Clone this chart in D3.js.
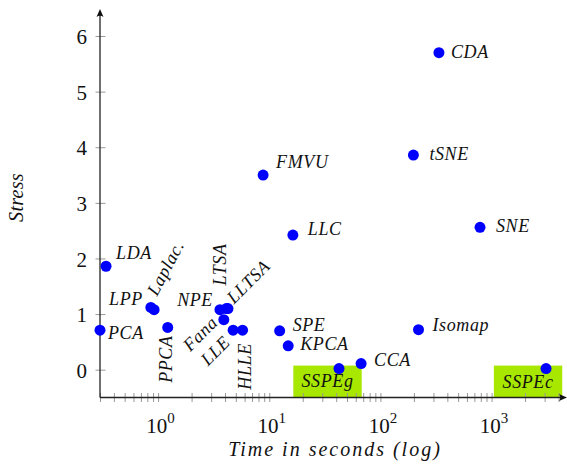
<!DOCTYPE html>
<html>
<head>
<meta charset="utf-8">
<script src="https://cdn.jsdelivr.net/npm/d3@7"></script>
</head>
<body style="margin:0;background:#fff">
<div id="chart"></div>
<script>
// data
var methods = ["PCA","LDA","LPP","Laplac.","PPCA","NPE","LTSA","LLTSA","Fana","LLE","HLLE",
               "SPE","KPCA","FMVU","LLC","CDA","tSNE","SNE","Isomap","CCA","SSPEg","SSPEc"];
var timeSec = [0.3, 0.34, 0.86, 0.92, 1.22, 3.6, 4.1, 4.25, 3.9, 4.73, 5.75,
               12.4, 14.8, 8.8, 16.3, 336, 198, 787, 220, 67, 42.4, 3090];
var stress  = [0.71, 1.86, 1.12, 1.08, 0.76, 1.08, 1.1, 1.1, 0.9, 0.71, 0.71,
               0.70, 0.43, 3.50, 2.42, 5.70, 3.86, 2.56, 0.72, 0.11, 0.02, 0.02];
var yTicks = [0, 1, 2, 3, 4, 5, 6];
var xMajor = [1, 10, 100, 1000];
var highlighted = ["SSPEg", "SSPEc"];

// label placement: dx, dy, rotation, anchor
var labelPos = {
  "PCA": [8, 9, 0, "start"],
  "LDA": [10, -7, 0, "start"],
  "LPP": [-8, -2, 0, "end"],
  "Laplac.": [3, -13, -62, "start"],
  "PPCA": [4, 8, -90, "end"],
  "NPE": [-7, -4, 0, "end"],
  "LTSA": [0, -23, -90, "start"],
  "LLTSA": [6, -4, -45, "start"],
  "Fana": [-5, 4, -45, "end"],
  "LLE": [-2, 13, -45, "end"],
  "HLLE": [8, 13, -90, "end"],
  "SPE": [13, 0, 0, "start"],
  "KPCA": [12, 4, 0, "start"],
  "FMVU": [13, -7, 0, "start"],
  "LLC": [15, 0, 0, "start"],
  "CDA": [12, 5, 0, "start"],
  "tSNE": [16, 5, 0, "start"],
  "SNE": [16, 5, 0, "start"],
  "Isomap": [14, 1, 0, "start"],
  "CCA": [13, 2, 0, "start"],
  "SSPEg": [-11.5, 18, 0, "middle"],
  "SSPEc": [-18, 19, 0, "middle"]
};

var serif = "'Liberation Serif', 'Times New Roman', serif";
var W = 567, H = 468;
var svg = d3.select("#chart").append("svg").attr("width", W).attr("height", H);

var x = d3.scaleLog().domain([0.3, 4300]).range([100, 562]);
var y = d3.scaleLinear().domain([-0.5, 6.45]).range([397.5, 11]);

var pts = methods.map(function(m, i) { return {name: m, t: timeSec[i], s: stress[i]}; });

// green boxes behind
svg.selectAll("rect.hl")
  .data(pts.filter(function(d) { return highlighted.indexOf(d.name) >= 0; }))
  .enter().append("rect")
  .attr("class", "hl")
  .attr("x", function(d) { return x(d.t) + labelPos[d.name][0] - 34.2; })
  .attr("y", function(d) { return y(d.s) - 3; })
  .attr("width", 68.4)
  .attr("height", function(d) { return y(-0.5) - y(d.s) + 3; })
  .attr("fill", "#a8e800");

// x axis
var minor = [];
[0.1, 1, 10, 100, 1000].forEach(function(p) {
  for (var k = 1; k < 10; k++) { var v = p * k; if (v >= 0.3 && v <= 4300) minor.push(v); }
});
var gx = svg.append("g").attr("transform", "translate(0," + y(-0.5) + ")")
  .call(d3.axisBottom(x).tickValues(minor).tickSize(0).tickFormat(""));
gx.select(".domain").remove();
gx.selectAll(".tick line").attr("y1", -4.5).attr("y2", 4.5).attr("stroke", "#999").attr("stroke-width", 1);
gx.selectAll(".tick text").remove();
gx.selectAll(".tick").filter(function(d) { return xMajor.indexOf(d) >= 0; })
  .append("text")
  .attr("y", 35.5).attr("x", 2).attr("text-anchor", "middle")
  .style("font-family", serif).style("font-size", "21px").attr("fill", "#111")
  .each(function(d) {
    var t = d3.select(this);
    t.append("tspan").text("10");
    t.append("tspan").attr("dy", -10).style("font-size", "15px").text(Math.round(Math.log10(d)));
  });

// y axis
var gy = svg.append("g").attr("transform", "translate(" + x(0.3) + ",0)")
  .call(d3.axisLeft(y).tickValues(yTicks).tickSize(0).tickFormat(d3.format("d")));
gy.select(".domain").remove();
gy.selectAll(".tick line").attr("x1", -4.5).attr("x2", 5.5).attr("stroke", "#999").attr("stroke-width", 1);
gy.selectAll(".tick text").attr("x", -13).attr("dy", "0.36em")
  .style("font-family", serif).style("font-size", "21px").attr("fill", "#111");

// axis lines with arrows
svg.append("line").attr("x1", 100).attr("x2", 100).attr("y1", y(-0.5)).attr("y2", 13)
  .attr("stroke", "#222").attr("stroke-width", 1.3);
svg.append("line").attr("x1", 100).attr("x2", 563).attr("y1", y(-0.5)).attr("y2", y(-0.5))
  .attr("stroke", "#222").attr("stroke-width", 1.3);
svg.append("path").attr("d", "M100,9 L96.5,17 Q100,14.5 103.5,17 Z").attr("fill", "#111");
svg.append("path").attr("d", "M567," + y(-0.5) + " l-8,-3.5 q2.5,3.5 0,7 Z").attr("fill", "#111");

// points
svg.selectAll("circle.pt").data(pts).enter().append("circle")
  .attr("class", "pt")
  .attr("cx", function(d) { return x(d.t); })
  .attr("cy", function(d) { return y(d.s); })
  .attr("r", 5.5)
  .attr("fill", "#0000ff");

// labels
svg.selectAll("text.lbl").data(pts).enter().append("text")
  .attr("class", "lbl")
  .style("font-family", serif).style("font-style", "italic").style("font-size", "18px")
  .style("letter-spacing", "0.6px").attr("fill", "#111")
  .attr("text-anchor", function(d) { return labelPos[d.name][3]; })
  .attr("transform", function(d) {
    var p = labelPos[d.name];
    return "translate(" + (x(d.t) + p[0]) + "," + (y(d.s) + p[1]) + ") rotate(" + p[2] + ")";
  })
  .text(function(d) { return d.name; });

// titles
svg.append("text")
  .style("font-family", serif).style("font-style", "italic").style("font-size", "20px")
  .style("letter-spacing", "2px").attr("fill", "#111")
  .attr("x", 335).attr("y", 456).attr("text-anchor", "middle")
  .text("Time in seconds (log)");
svg.append("text")
  .style("font-family", serif).style("font-style", "italic").style("font-size", "20px")
  .style("letter-spacing", "0.3px").attr("fill", "#111")
  .attr("transform", "translate(23,197.5) rotate(-90)").attr("text-anchor", "middle")
  .text("Stress");
</script>
</body>
</html>
